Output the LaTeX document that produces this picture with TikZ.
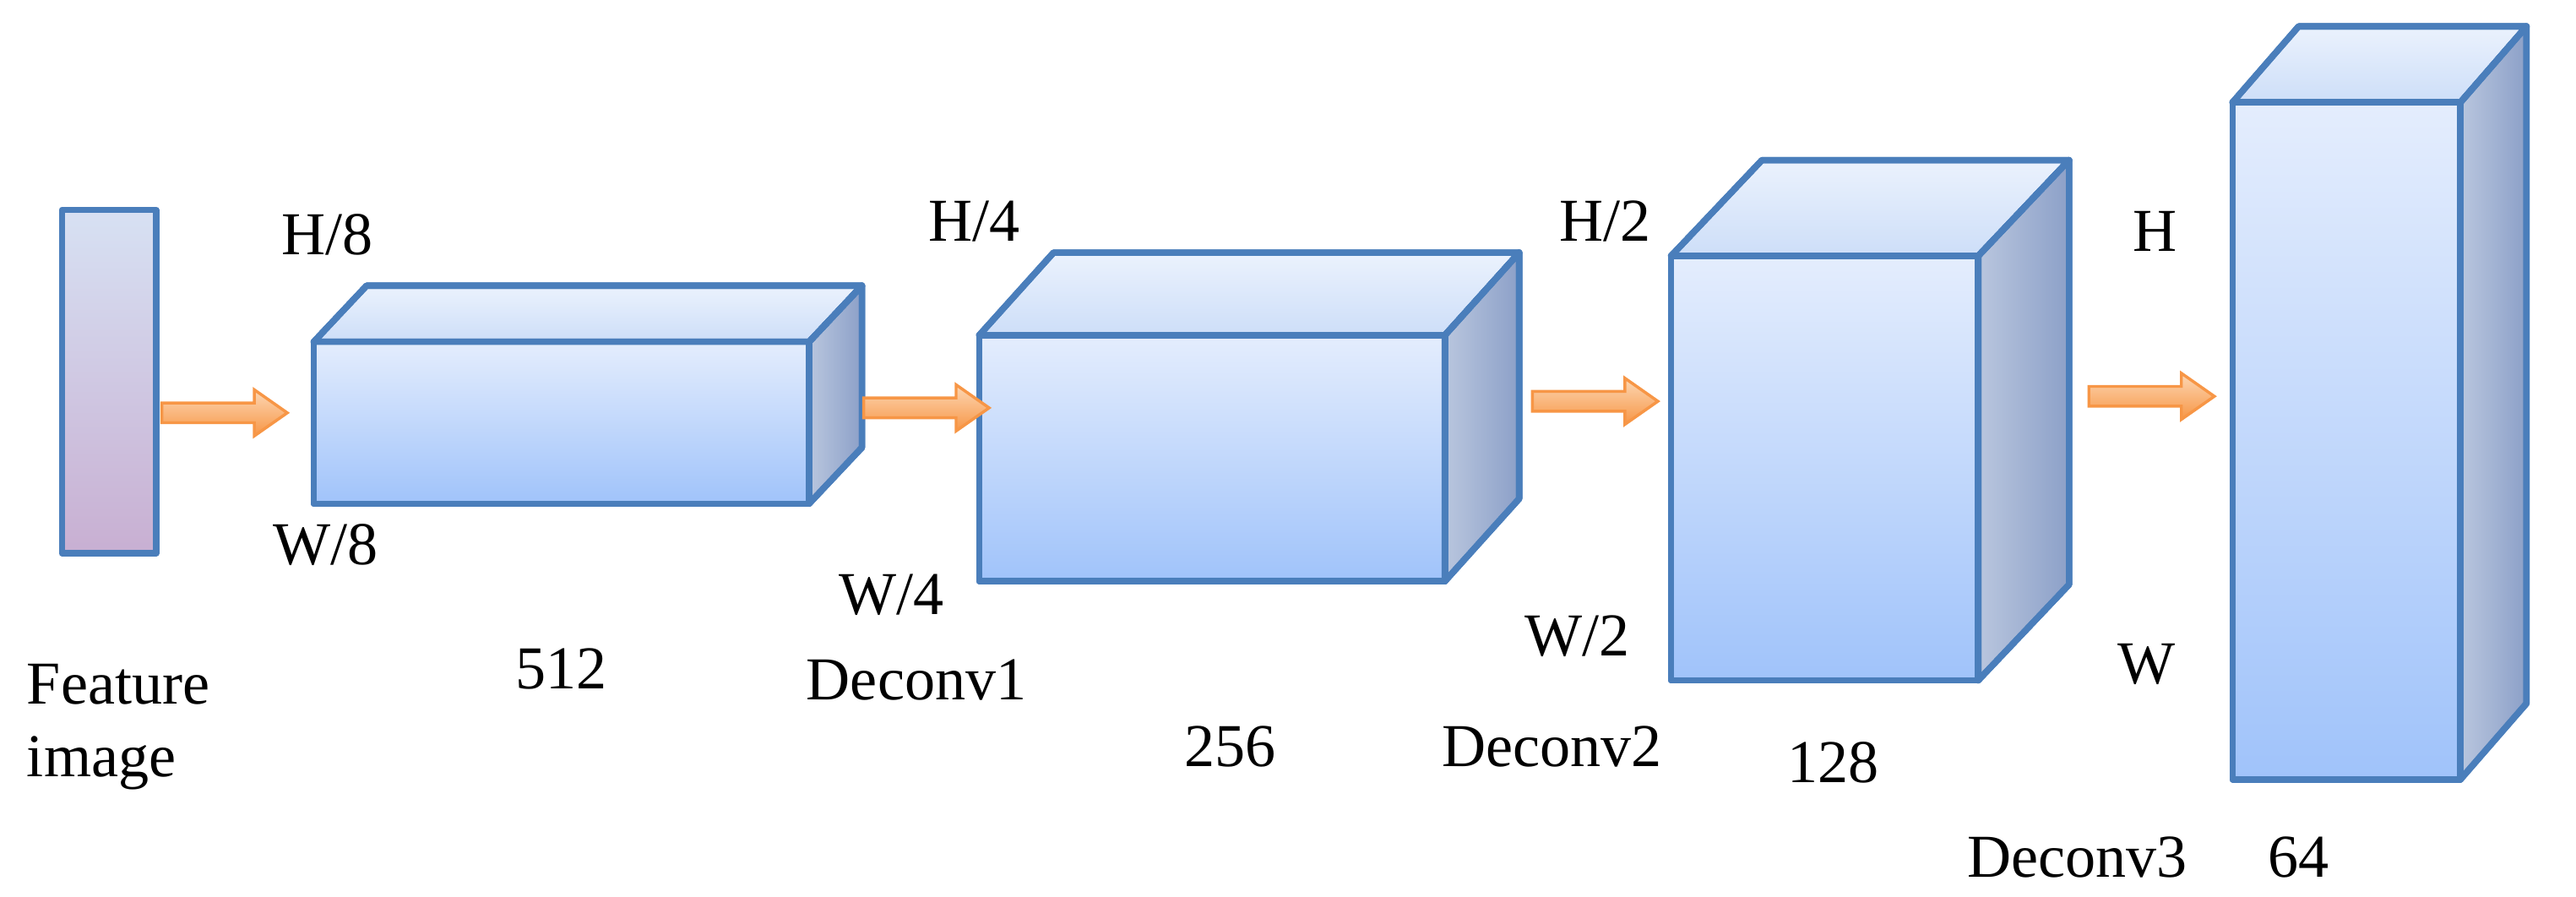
\documentclass[tikz,border=0pt]{standalone}
\usepackage{fontspec}
\setmainfont{Liberation Serif}
\definecolor{edge}{HTML}{4A7EBB}
\definecolor{orng}{HTML}{F79646}
\tikzset{
  face/.style={draw=edge,line width=2.2pt,line join=round},
  front/.style={face,top color={rgb,255:red,228;green,237;blue,253},bottom color={rgb,255:red,160;green,195;blue,250}},
  topf/.style={face,top color={rgb,255:red,235;green,242;blue,253},bottom color={rgb,255:red,205;green,222;blue,248}},
  side/.style={face,left color={rgb,255:red,185;green,198;blue,222},right color={rgb,255:red,140;green,160;blue,200}},
  arr/.style={draw=orng,line width=1pt,line join=miter,top color={rgb,255:red,252;green,215;blue,180},bottom color=orng},
  lbl/.style={font=\fontsize{21}{25}\selectfont,inner sep=0pt}
}
\newcommand{\mybox}[7]{% x1 y1 x2 y2 dx dy name
  \fill[topf] (#1,#2) -- ++(#5,#6) -- (#3+#5,#2+#6) -- (#3,#2) -- cycle;
  \fill[side] (#3,#2) -- (#3+#5,#2+#6) -- (#3+#5,#4+#6) -- (#3,#4) -- cycle;
  \fill[front] (#1,#2) rectangle (#3,#4);
  \draw[face] (#1,#2) -- ++(#5,#6) -- (#3+#5,#2+#6) -- (#3,#2) -- cycle;
  \draw[face] (#3,#2) -- (#3+#5,#2+#6) -- (#3+#5,#4+#6) -- (#3,#4) -- cycle;
  \draw[face] (#1,#2) rectangle (#3,#4);
  \coordinate (#7) at ({(#1+#3)/2},{(#2+#4)/2});
}
\newcommand{\myarrow}[3]{% x y name
  \coordinate (#3) at (#1,#2);
  \path[arr] (#1-38,#2-6) -- (#1+18,#2-6) -- (#1+18,#2-14) -- (#1+38,#2) -- (#1+18,#2+14) -- (#1+18,#2+6) -- (#1-38,#2+6) -- cycle;
}
\begin{document}
\begin{tikzpicture}[x=0.02cm,y=-0.02cm]
\useasboundingbox (0,0) rectangle (1560,543);
\node[face,minimum width=1.14cm,minimum height=4.16cm,inner sep=0pt,top color={rgb,255:red,215;green,225;blue,243},bottom color={rgb,255:red,200;green,175;blue,210}] (fi) at (66,231) {};
\mybox{190}{207}{490}{305}{32}{-34}{b1}
\mybox{593}{203}{875}{352}{45}{-50}{b2}
\mybox{1012}{155}{1198}{412}{55}{-58}{b3}
\mybox{1352}{62}{1490}{472}{40}{-46}{b4}
\myarrow{136}{250}{a1}
\myarrow{561}{247}{a2}
\myarrow{966}{243}{a3}
\myarrow{1303}{240}{a4}
\node[lbl] (t1) at (198,142) {H/8};
\node[lbl] (t2) at (197,330) {W/8};
\node[lbl] (t3) at (340,405) {512};
\node[lbl,align=left,anchor=west] (t4) at (16,440) {Feature\\image};
\node[lbl] (t5) at (590,134) {H/4};
\node[lbl] (t6) at (540,360) {W/4};
\node[lbl] (t7) at (555,412) {Deconv1};
\node[lbl] (t8) at (745,452) {256};
\node[lbl] (t9) at (972,134) {H/2};
\node[lbl] (t10) at (955,385) {W/2};
\node[lbl] (t11) at (940,452) {Deconv2};
\node[lbl] (t12) at (1110,462) {128};
\node[lbl] (t13) at (1305,140) {H};
\node[lbl] (t14) at (1300,402) {W};
\node[lbl] (t15) at (1258,519) {Deconv3};
\node[lbl] (t16) at (1392,519) {64};
\end{tikzpicture}
\end{document}
